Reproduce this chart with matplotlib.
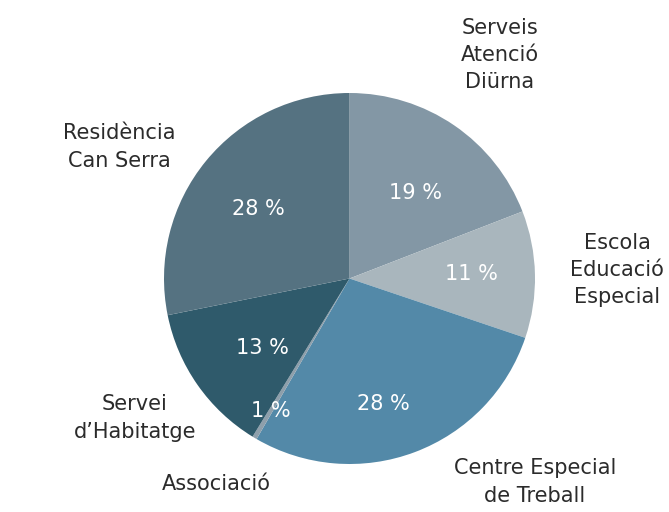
import matplotlib
matplotlib.use("Agg")
import matplotlib.pyplot as plt
import numpy as np

categories = ["Serveis\nAtenció\nDiürna", "Escola\nEducació\nEspecial", "Centre Especial\nde Treball",
              "Associació", "Servei\nd’Habitatge", "Residència\nCan Serra"]
values = [19, 11, 28, 0.4, 13, 28]
pct_labels = ["19 %", "11 %", "28 %", "1 %", "13 %", "28 %"]
colors = ["#8397a5", "#a9b6bd", "#5389a8", "#8e9fab", "#2f5a6b", "#557281"]

# layout (pixel positions of the outer labels, and radial factors / angle shifts of percentages)
label_px = [(500, 55), (617, 270), (535, 482), (216, 484), (135, 418), (119, 147)]
pct_dist = [0.58, 0.66, 0.70, 0.83, 0.60, 0.62]
pct_ang_shift = [-3.4, 1, -5.6, 0, 3.4, 2]
W, H = 669, 512
cx, cy, R = 349.5, 278.5, 185.5

fig = plt.figure(figsize=(W / 100, H / 100), dpi=100)
ax = fig.add_axes([0, 0, 1, 1])
ax.set_xlim(0, W)
ax.set_ylim(0, H)
ax.set_aspect("equal")
ax.axis("off")

wedges, _ = ax.pie(values, colors=colors, startangle=90, counterclock=False,
                   center=(cx, H - cy), radius=R, wedgeprops=dict(linewidth=0))
ax.set_xlim(0, W)
ax.set_ylim(0, H)

for w, txt, d, s in zip(wedges, pct_labels, pct_dist, pct_ang_shift):
    ang = np.deg2rad((w.theta1 + w.theta2) / 2 + s)
    ax.text(cx + d * R * np.cos(ang), H - cy + d * R * np.sin(ang), txt,
            ha="center", va="center", color="white", fontsize=15, family="DejaVu Sans")

for lab, (x, y) in zip(categories, label_px):
    ax.text(x, H - y, lab, ha="center", va="center", multialignment="center",
            color="#2b2b2b", fontsize=15, family="DejaVu Sans", linespacing=1.45)

fig.savefig("out.png", dpi=100)
